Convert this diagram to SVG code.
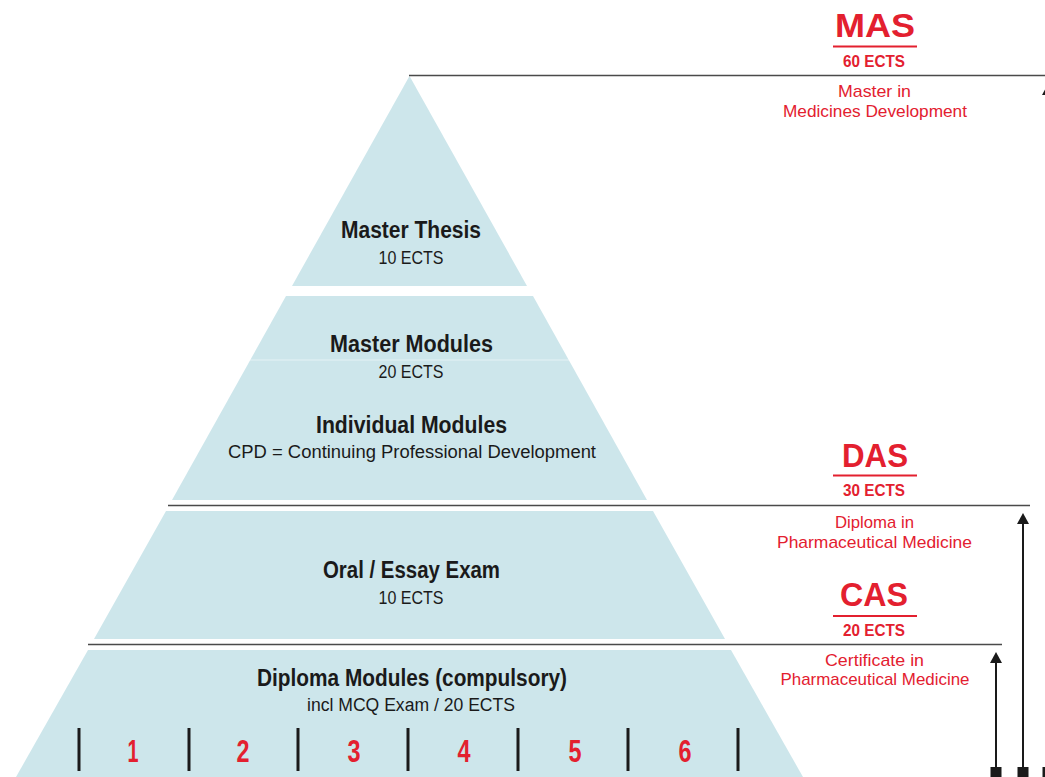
<svg xmlns="http://www.w3.org/2000/svg" width="1045" height="777" viewBox="0 0 1045 777">
<defs>
<style>
.tier{fill:#cde6eb}
.t{font-family:"Liberation Sans",Arial,sans-serif;text-anchor:middle;fill:#1a1a1a}
.b{font-weight:bold;font-size:23px}
.s{font-size:18px}
.r{fill:#e3202f}
.big{font-weight:bold;font-size:34px}
.ects{font-weight:bold;font-size:17px}
.sub{font-size:17px}
.num{font-size:32px;font-weight:bold}
.hl{stroke:#4a4a4a;stroke-width:1.6;fill:none}
.tick{stroke:#1a1a1a;stroke-width:3}
.ul{stroke:#e3202f;stroke-width:2.2}
.ar{stroke:#1a1a1a;stroke-width:2;fill:none}
</style>
<marker id="ah" markerWidth="11" markerHeight="12" refX="5" refY="6" orient="auto" markerUnits="userSpaceOnUse" viewBox="0 0 11 12">
<path d="M0,0 L11,6 L0,12 Z" fill="#1a1a1a"/>
</marker>
</defs>
<g id="tier-thesis">
<polygon class="tier" points="409.5,76 527,286 292,286"/>
<text class="t b" x="411" y="238" textLength="140" lengthAdjust="spacingAndGlyphs">Master Thesis</text>
<text class="t s" x="411" y="264" textLength="65" lengthAdjust="spacingAndGlyphs">10 ECTS</text>
</g>
<g id="tier-modules">
<polygon class="tier" points="286,296 533,296 647,500 172,500"/>
<line x1="250" y1="360" x2="569" y2="360" stroke="#ffffff" stroke-opacity="0.5" stroke-width="1"/>
<text class="t b" x="411.5" y="352" textLength="163" lengthAdjust="spacingAndGlyphs">Master Modules</text>
<text class="t s" x="411" y="378" textLength="65" lengthAdjust="spacingAndGlyphs">20 ECTS</text>
<text class="t b" x="411.5" y="433" textLength="191" lengthAdjust="spacingAndGlyphs">Individual Modules</text>
<text class="t s" x="412" y="458" textLength="368" lengthAdjust="spacingAndGlyphs">CPD = Continuing Professional Development</text>
</g>
<g id="tier-oral">
<polygon class="tier" points="166,511 653,511 725,639 94,639"/>
<text class="t b" x="411.5" y="578" textLength="177" lengthAdjust="spacingAndGlyphs">Oral / Essay Exam</text>
<text class="t s" x="411" y="604" textLength="65" lengthAdjust="spacingAndGlyphs">10 ECTS</text>
</g>
<g id="tier-diploma">
<polygon class="tier" points="88,650 731,650 803,777 16,777"/>
<text class="t b" x="412" y="686" textLength="310" lengthAdjust="spacingAndGlyphs">Diploma Modules (compulsory)</text>
<text class="t s" x="411" y="711" textLength="208" lengthAdjust="spacingAndGlyphs">incl MCQ Exam / 20 ECTS</text>
<g class="tick">
<line x1="79" y1="728" x2="79" y2="771"/>
<line x1="189" y1="728" x2="189" y2="771"/>
<line x1="298" y1="728" x2="298" y2="771"/>
<line x1="408" y1="728" x2="408" y2="771"/>
<line x1="518" y1="728" x2="518" y2="771"/>
<line x1="628" y1="728" x2="628" y2="771"/>
<line x1="738" y1="728" x2="738" y2="771"/>
</g>
<text class="t r num" x="133" y="762" textLength="11" lengthAdjust="spacingAndGlyphs">1</text>
<text class="t r num" x="243" y="762" textLength="13" lengthAdjust="spacingAndGlyphs">2</text>
<text class="t r num" x="354" y="762" textLength="13" lengthAdjust="spacingAndGlyphs">3</text>
<text class="t r num" x="464" y="762" textLength="13" lengthAdjust="spacingAndGlyphs">4</text>
<text class="t r num" x="575" y="762" textLength="13" lengthAdjust="spacingAndGlyphs">5</text>
<text class="t r num" x="685" y="762" textLength="13" lengthAdjust="spacingAndGlyphs">6</text>
</g>
<g id="label-mas">
<text class="t r big" x="875" y="37" textLength="80" lengthAdjust="spacingAndGlyphs">MAS</text>
<line class="ul" x1="833" y1="46.5" x2="917" y2="46.5"/>
<text class="t r ects" x="874" y="67" textLength="62" lengthAdjust="spacingAndGlyphs">60 ECTS</text>
<text class="t r sub" x="874.5" y="97" textLength="73" lengthAdjust="spacingAndGlyphs">Master in</text>
<text class="t r sub" x="875" y="117" textLength="184" lengthAdjust="spacingAndGlyphs">Medicines Development</text>
</g>
<g id="label-das">
<text class="t r big" x="875" y="467" textLength="66" lengthAdjust="spacingAndGlyphs">DAS</text>
<line class="ul" x1="833" y1="475.5" x2="917" y2="475.5"/>
<text class="t r ects" x="874" y="496" textLength="62" lengthAdjust="spacingAndGlyphs">30 ECTS</text>
<text class="t r sub" x="874.5" y="528" textLength="79" lengthAdjust="spacingAndGlyphs">Diploma in</text>
<text class="t r sub" x="874.5" y="548" textLength="195" lengthAdjust="spacingAndGlyphs">Pharmaceutical Medicine</text>
</g>
<g id="label-cas">
<text class="t r big" x="874" y="606" textLength="68" lengthAdjust="spacingAndGlyphs">CAS</text>
<line class="ul" x1="833" y1="616" x2="917" y2="616"/>
<text class="t r ects" x="874" y="636" textLength="62" lengthAdjust="spacingAndGlyphs">20 ECTS</text>
<text class="t r sub" x="874.5" y="666" textLength="99" lengthAdjust="spacingAndGlyphs">Certificate in</text>
<text class="t r sub" x="875" y="685" textLength="189" lengthAdjust="spacingAndGlyphs">Pharmaceutical Medicine</text>
</g>
<g id="connectors">
<line class="hl" x1="409" y1="75.5" x2="1045" y2="75.5"/>
<line class="hl" x1="168" y1="505.5" x2="1030" y2="505.5" stroke="#6a6a6a"/>
<line class="hl" x1="88" y1="644.5" x2="1002" y2="644.5"/>
<line class="ar" x1="996" y1="767" x2="996" y2="658" marker-end="url(#ah)"/>
<rect x="990.5" y="767" width="11" height="10" fill="#1a1a1a"/>
<line class="ar" x1="1023" y1="767" x2="1023" y2="519" marker-end="url(#ah)" stroke="#333"/>
<rect x="1017.5" y="767" width="11" height="10" fill="#1a1a1a"/>
<line class="ar" x1="1048" y1="767" x2="1048" y2="90" marker-end="url(#ah)"/>
<rect x="1042.5" y="767" width="11" height="10" fill="#1a1a1a"/>
</g>
</svg>
